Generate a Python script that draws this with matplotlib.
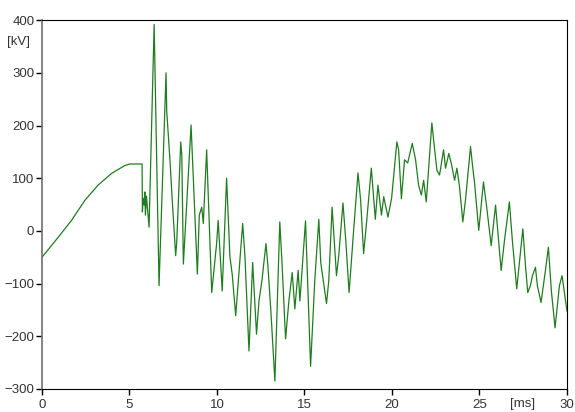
import numpy as np
import matplotlib
matplotlib.use('Agg')
import matplotlib.pyplot as plt

# Tension transitoire (temps en ms, tension en kV)
t_ms = [0.0, 0.93, 1.69, 2.45, 3.21, 3.97, 4.73, 5.02, 5.72,
        5.74, 5.78, 5.84, 5.88, 5.91, 5.97, 6.12, 6.41, 6.69, 7.09, 7.13,
        7.32, 7.45, 7.64, 7.70, 7.93, 7.99, 8.08, 8.52, 8.65, 8.88,
        8.99, 9.13, 9.22, 9.41, 9.70, 9.98, 10.07, 10.30, 10.55, 10.74,
        10.87, 11.07, 11.47, 11.60, 11.83, 12.04, 12.26, 12.40, 12.57, 12.80,
        12.91, 13.08, 13.31, 13.59, 13.71, 13.92, 14.11, 14.30, 14.45, 14.64,
        14.74, 15.06, 15.35, 15.59, 15.82, 15.93, 16.26, 16.39, 16.58, 16.83,
        16.96, 17.20, 17.36, 17.55, 17.81, 18.06, 18.21, 18.38, 18.56, 18.82,
        19.05, 19.20, 19.40, 19.53, 19.77, 19.98, 20.28, 20.38, 20.54, 20.72,
        20.90, 21.16, 21.35, 21.52, 21.68, 21.81, 21.96, 22.28, 22.44, 22.57,
        22.72, 22.95, 23.06, 23.25, 23.41, 23.58, 23.71, 23.86, 24.05, 24.20,
        24.49, 24.60, 24.72, 24.96, 25.23, 25.40, 25.67, 25.92, 26.24, 26.43,
        26.71, 26.88, 27.13, 27.48, 27.63, 27.76, 27.91, 28.03, 28.20, 28.31,
        28.52, 28.77, 28.94, 29.11, 29.32, 29.57, 29.72, 30.0]
u_kv = [-50, -12, 20, 58, 87, 109, 124, 127, 127,
        36, 62, 49, 74, 30, 66, 7, 392, -104, 300, 227,
        131, 55, -47, -22, 169, 144, -63, 201, 100, -82,
        30, 45, 14, 154, -117, -24, 20, -114, 100, -49,
        -82, -161, 14, -49, -228, -60, -196, -133, -94, -24,
        -66, -152, -285, 17, -56, -205, -133, -79, -148, -75,
        -133, 19, -257, -94, 22, -60, -138, -94, 45, -85,
        -47, 53, -18, -117, 1, 110, 58, -43, 20, 119,
        22, 87, 30, 65, 26, 62, 169, 154, 61, 135,
        129, 166, 135, 87, 68, 96, 55, 205, 154, 115,
        106, 154, 119, 147, 125, 96, 119, 84, 17, 58,
        160, 125, 91, 1, 93, 49, -28, 49, -75, -18,
        55, -18, -110, 4, -66, -117, -104, -85, -69, -104,
        -136, -75, -31, -114, -184, -104, -85, -152]

xticks = [0, 5, 10, 15, 20, 25, 30]
yticks = [-300, -200, -100, 0, 100, 200, 300, 400]

plt.rcParams['font.family'] = ['Liberation Sans', 'DejaVu Sans']

fig = plt.figure(figsize=(5.75, 4.12), dpi=100)
ax = fig.add_axes([0.073, 0.056, 0.913, 0.895])

ax.plot(t_ms, u_kv, color='#1e7d1e', linewidth=0.9)

ax.set_xlim(0, 30)
ax.set_ylim(-300, 400)
ax.set_xticks(xticks)
ax.set_yticks(yticks)
ax.tick_params(axis='both', direction='out', length=4, width=1,
               labelsize=9.5, labelcolor='#333333')
ax.tick_params(axis='x', pad=3.5)
ax.tick_params(axis='y', pad=1.5)

for s in ['top', 'bottom', 'right']:
    ax.spines[s].set_color('black')
ax.spines['left'].set_color('#707070')
ax.spines['left'].set_linewidth(1.2)

# unites
fig.text(0.013, 0.89, '[kV]', fontsize=9.5, color='#333333')
fig.text(0.887, 0.012, '[ms]', fontsize=9.5, color='#333333')

plt.savefig('out.png', dpi=100)
